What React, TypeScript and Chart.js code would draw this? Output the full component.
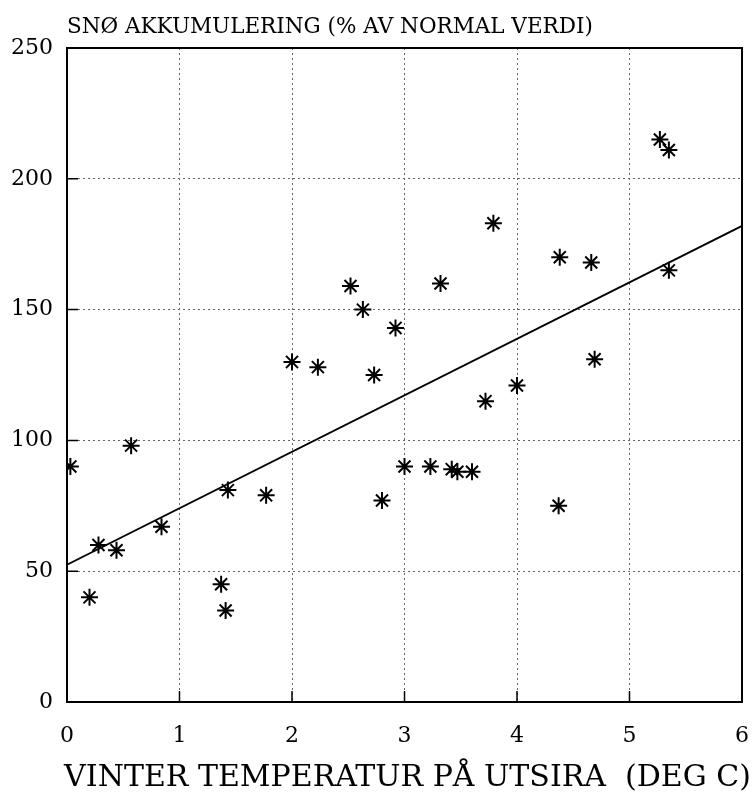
import { useEffect, useRef } from "react";
import { Chart, registerables } from "chart.js";

Chart.register(...registerables);

// Winter temperature at Utsira (deg C)
const temperature = [
  0.03, 0.2, 0.28, 0.44, 0.57, 0.84, 1.37, 1.41, 1.43, 1.77, 2.0,
  2.23, 2.52, 2.63, 2.73, 2.8, 2.92, 3.0, 3.23, 3.32, 3.42, 3.47,
  3.6, 3.72, 3.79, 4.0, 4.37, 4.38, 4.66, 4.69, 5.27, 5.35, 5.35,
];
// Snow accumulation (% of normal)
const snow = [
  90, 40, 60, 58, 98, 67, 45, 35, 81, 79, 130,
  128, 159, 150, 125, 77, 143, 90, 90, 160, 89, 88,
  88, 115, 183, 121, 75, 170, 168, 131, 215, 211, 165,
];
// Regression line end points
const fitTemperature = [0, 6];
const fitSnow = [52.5, 182];

const xTickValues = [0, 1, 2, 3, 4, 5, 6];
const yTickValues = [0, 50, 100, 150, 200, 250];

const yAxisTitle = "SNØ AKKUMULERING (% AV NORMAL VERDI)";
const xAxisTitle = "VINTER TEMPERATUR PÅ UTSIRA  (DEG C)";

const FONT = "'DejaVu Serif', 'Liberation Serif', serif";

export default function App() {
  const ref = useRef<HTMLCanvasElement>(null);

  useEffect(() => {
    document.body.style.margin = "0";
    const canvas = ref.current;
    if (!canvas) return;

    const framePlugin = {
      id: "frame",
      beforeDatasetsDraw(chart: any) {
        const { ctx, chartArea: a, scales } = chart;
        ctx.save();
        ctx.strokeStyle = "#000";
        ctx.lineWidth = 1.5;
        ctx.beginPath();
        for (const v of xTickValues.slice(1, -1)) {
          const x = scales.x.getPixelForValue(v);
          ctx.moveTo(x, a.bottom);
          ctx.lineTo(x, a.bottom - 11);
        }
        for (const v of yTickValues.slice(1, -1)) {
          const y = scales.y.getPixelForValue(v);
          ctx.moveTo(a.left, y);
          ctx.lineTo(a.left + 11, y);
        }
        ctx.stroke();
        ctx.lineWidth = 2;
        ctx.strokeRect(a.left, a.top, a.right - a.left, a.bottom - a.top);
        ctx.restore();
      },
      afterDraw(chart: any) {
        const { ctx, chartArea: a } = chart;
        ctx.save();
        ctx.fillStyle = "#000";
        ctx.textBaseline = "alphabetic";
        ctx.font = `21.5px ${FONT}`;
        ctx.textAlign = "left";
        ctx.fillText(yAxisTitle, a.left, a.top - 15);
        ctx.font = `30px ${FONT}`;
        ctx.textAlign = "center";
        ctx.fillText(xAxisTitle, (a.left + a.right) / 2 + 3, a.bottom + 84);
        ctx.restore();
      },
    };

    const chart = new Chart(canvas, {
      type: "scatter",
      data: {
        datasets: [
          {
            label: "obs",
            data: temperature.map((x, i) => ({ x, y: snow[i] })),
            pointStyle: "star",
            pointRadius: 8.5,
            pointBorderWidth: 2,
            borderColor: "#000",
            backgroundColor: "#000",
            showLine: false,
          },
          {
            label: "fit",
            data: fitTemperature.map((x, i) => ({ x, y: fitSnow[i] })),
            showLine: true,
            pointRadius: 0,
            borderColor: "#000",
            borderWidth: 1.8,
          },
        ],
      },
      options: {
        responsive: false,
        animation: false,
        color: "#000",
        layout: { padding: { top: 48, right: 12, left: 0, bottom: 0 } },
        plugins: {
          legend: { display: false },
          tooltip: { enabled: false },
          title: { display: false },
        },
        scales: {
          x: {
            type: "linear",
            min: 0,
            max: 6,
            afterBuildTicks: (s: any) => {
              s.ticks = xTickValues.map((v) => ({ value: v }));
            },
            afterFit: (s: any) => {
              s.height = 90;
              s.paddingLeft = 0;
              s.paddingRight = 0;
            },
            ticks: {
              color: "#000",
              font: { family: FONT, size: 22 },
              padding: 21,
              maxRotation: 0,
            },
            grid: { color: "#666", lineWidth: 1, drawTicks: false },
            border: { display: true, color: "#000", width: 2, dash: [2, 3] },
            title: { display: false },
          },
          y: {
            type: "linear",
            min: 0,
            max: 250,
            afterBuildTicks: (s: any) => {
              s.ticks = yTickValues.map((v) => ({ value: v }));
            },
            afterFit: (s: any) => {
              s.width = 67;
              s.paddingTop = 0;
              s.paddingBottom = 0;
            },
            ticks: {
              color: "#000",
              font: { family: FONT, size: 22 },
              padding: 14,
            },
            grid: { color: "#666", lineWidth: 1, drawTicks: false },
            border: { display: true, color: "#000", width: 2, dash: [2, 3] },
          },
        },
      },
      plugins: [framePlugin],
    });

    return () => chart.destroy();
  }, []);

  return (
    <div style={{ width: 754, height: 792, background: "#fff" }}>
      <canvas ref={ref} width={754} height={792} />
    </div>
  );
}
